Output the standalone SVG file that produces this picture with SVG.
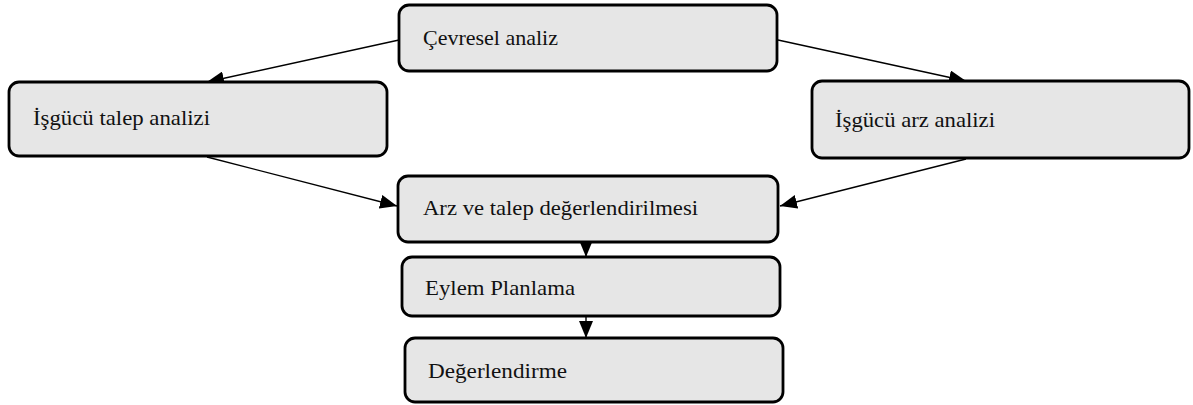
<svg xmlns="http://www.w3.org/2000/svg" width="1193" height="405" viewBox="0 0 1193 405">
<style>
.box{fill:#e6e6e6;stroke:#000;stroke-width:2.8}
.lbl{font-family:"Liberation Serif",serif;font-size:21px;fill:#111}
.con{stroke:#000;stroke-width:1.4;fill:none}
</style>
<defs>
<marker id="ah" markerUnits="userSpaceOnUse" markerWidth="17" markerHeight="14" refX="17" refY="7" orient="auto">
<path d="M0,0 L17,7 L0,14 Z" fill="#000"/>
</marker>
</defs>
<rect width="1193" height="405" fill="#fff"/>
<g id="connectors">
<line class="con" x1="399" y1="40" x2="207" y2="82" marker-end="url(#ah)"/>
<line class="con" x1="778" y1="40" x2="966" y2="81" marker-end="url(#ah)"/>
<line class="con" x1="207" y1="157" x2="397" y2="206" marker-end="url(#ah)"/>
<line class="con" x1="966" y1="159" x2="780" y2="206" marker-end="url(#ah)"/>
<line class="con" x1="586" y1="242" x2="586" y2="257" marker-end="url(#ah)"/>
<line class="con" x1="586" y1="316" x2="586" y2="338" marker-end="url(#ah)"/>
</g>
<g id="n1"><rect class="box" x="399" y="5" width="378" height="66" rx="10"/><text class="lbl" x="423" y="45" textLength="135" lengthAdjust="spacingAndGlyphs">Çevresel analiz</text></g>
<g id="n2"><rect class="box" x="9" y="82" width="378" height="74" rx="10"/><text class="lbl" x="33" y="125" textLength="177" lengthAdjust="spacingAndGlyphs">İşgücü talep analizi</text></g>
<g id="n3"><rect class="box" x="812" y="81" width="377" height="77" rx="10"/><text class="lbl" x="835" y="127" textLength="160" lengthAdjust="spacingAndGlyphs">İşgücü arz analizi</text></g>
<g id="n4"><rect class="box" x="398" y="176" width="380" height="66" rx="10"/><text class="lbl" x="423" y="215" textLength="275" lengthAdjust="spacingAndGlyphs">Arz ve talep değerlendirilmesi</text></g>
<g id="n5"><rect class="box" x="402" y="257" width="378" height="59" rx="10"/><text class="lbl" x="425" y="295" textLength="150" lengthAdjust="spacingAndGlyphs">Eylem Planlama</text></g>
<g id="n6"><rect class="box" x="405" y="338" width="378" height="64" rx="10"/><text class="lbl" x="428" y="378" textLength="139" lengthAdjust="spacingAndGlyphs">Değerlendirme</text></g>
</svg>
